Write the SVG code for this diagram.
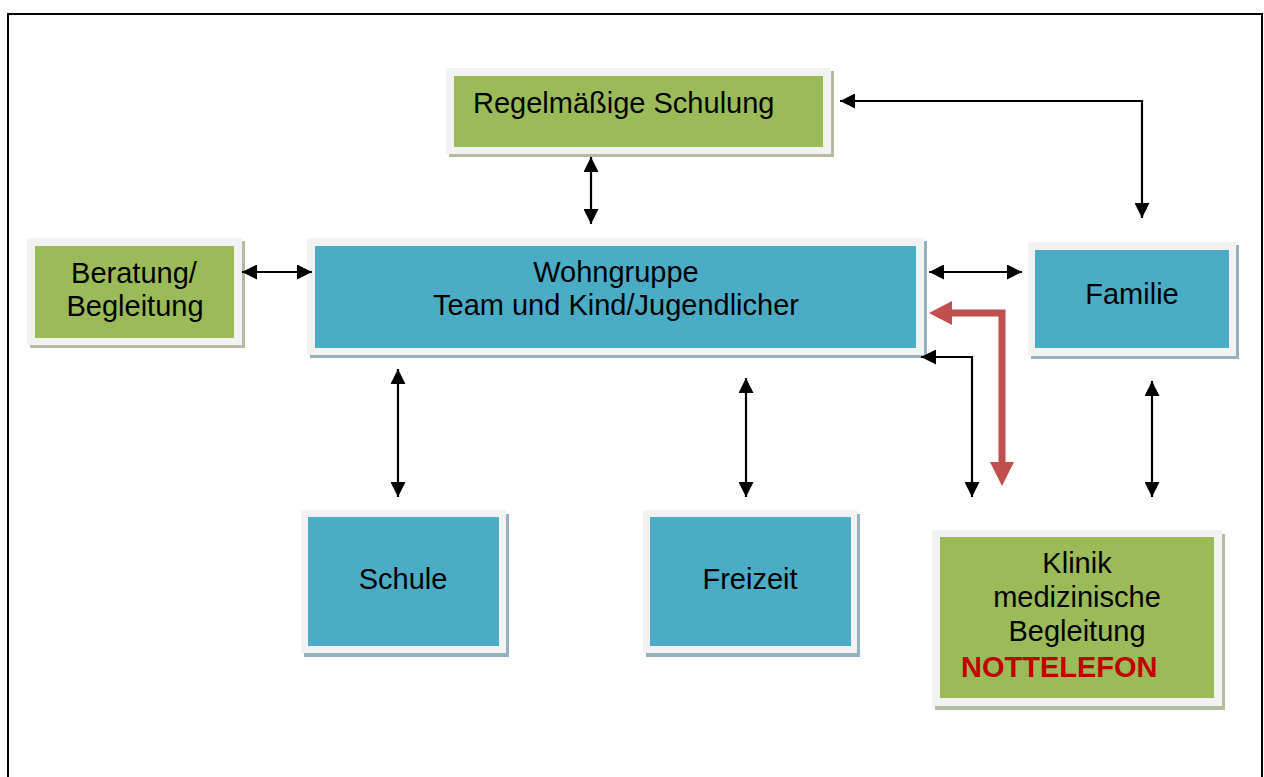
<svg xmlns="http://www.w3.org/2000/svg" width="1264" height="777" viewBox="0 0 1264 777">
<defs>
<style>
.frame{fill:#f2f2f2}
.shg{fill:#b3bba0}
.shb{fill:#95b3bf}
.g{fill:#9bbb59}
.b{fill:#4bacc6}
.t{font-family:"Liberation Sans",Arial,sans-serif;font-size:29px;fill:#000}
.c{text-anchor:middle}
.conn{fill:none;stroke:#000;stroke-width:2.2}
</style>
<marker id="ah" markerUnits="userSpaceOnUse" markerWidth="16" markerHeight="15" refX="15" refY="7.5" orient="auto-start-reverse" viewBox="0 0 16 15">
<path d="M0,0 L15,7.5 L0,15 z" fill="#000"/>
</marker>
</defs>
<rect width="1264" height="777" fill="#fff"/>
<path d="M8,790 V14 H1262 V790" fill="none" stroke="#000" stroke-width="2"/>

<g id="schulung">
<rect class="shg" x="449" y="71" width="385" height="86"/>
<rect class="frame" x="446" y="68" width="385" height="86"/>
<rect class="g" x="454" y="76" width="369" height="71"/>
<text class="t" x="473" y="113">Regelmäßige Schulung</text>
</g>

<g id="beratung">
<rect class="shg" x="30" y="241" width="215" height="107"/>
<rect class="frame" x="27" y="238" width="215" height="107"/>
<rect class="g" x="35" y="246" width="199" height="92"/>
<text class="t c" x="134" y="283">Beratung/</text>
<text class="t c" x="135" y="316">Begleitung</text>
</g>

<g id="wohngruppe">
<rect class="shb" x="310" y="241" width="617" height="117"/>
<rect class="frame" x="307" y="238" width="617" height="117"/>
<rect class="b" x="315" y="246" width="601" height="102"/>
<text class="t c" x="616" y="282">Wohngruppe</text>
<text class="t c" x="616" y="315">Team und Kind/Jugendlicher</text>
</g>

<g id="familie">
<rect class="shb" x="1031" y="245" width="208" height="114"/>
<rect class="frame" x="1028" y="242" width="208" height="114"/>
<rect class="b" x="1035" y="250" width="194" height="98"/>
<text class="t c" x="1132" y="304">Familie</text>
</g>

<g id="schule">
<rect class="shb" x="304" y="514" width="205" height="143"/>
<rect class="frame" x="301" y="510" width="205" height="143"/>
<rect class="b" x="308" y="517" width="191" height="129"/>
<text class="t c" x="403" y="589">Schule</text>
</g>

<g id="freizeit">
<rect class="shb" x="646" y="514" width="214" height="143"/>
<rect class="frame" x="643" y="510" width="214" height="143"/>
<rect class="b" x="650" y="517" width="201" height="129"/>
<text class="t c" x="750" y="589">Freizeit</text>
</g>

<g id="klinik">
<rect class="shg" x="935" y="534" width="290" height="176"/>
<rect class="frame" x="932" y="530" width="290" height="176"/>
<rect class="g" x="940" y="537" width="274" height="161"/>
<text class="t c" x="1077" y="573">Klinik</text>
<text class="t c" x="1077" y="607">medizinische</text>
<text class="t c" x="1077" y="641">Begleitung</text>
<text class="t" x="961" y="677" style="font-weight:bold;fill:#c00000">NOTTELEFON</text>
</g>

<g id="connectors">
<path class="conn" d="M840,101 H1142 V218" marker-start="url(#ah)" marker-end="url(#ah)"/>
<path class="conn" d="M591,157 V224" marker-start="url(#ah)" marker-end="url(#ah)"/>
<path class="conn" d="M242,272 H312" marker-start="url(#ah)" marker-end="url(#ah)"/>
<path class="conn" d="M929,272 H1022" marker-start="url(#ah)" marker-end="url(#ah)"/>
<path class="conn" d="M921,357 H972 V497" marker-start="url(#ah)" marker-end="url(#ah)"/>
<path class="conn" d="M1152,381 V497" marker-start="url(#ah)" marker-end="url(#ah)"/>
<path class="conn" d="M398,369 V497" marker-start="url(#ah)" marker-end="url(#ah)"/>
<path class="conn" d="M746,378 V497" marker-start="url(#ah)" marker-end="url(#ah)"/>
<path d="M951,313 H1002 V463" fill="none" stroke="#c0504d" stroke-width="7"/>
<polygon points="929,313 952,301 952,325" fill="#c0504d"/>
<polygon points="990,462 1014,462 1002,486" fill="#c0504d"/>
</g>
</svg>
